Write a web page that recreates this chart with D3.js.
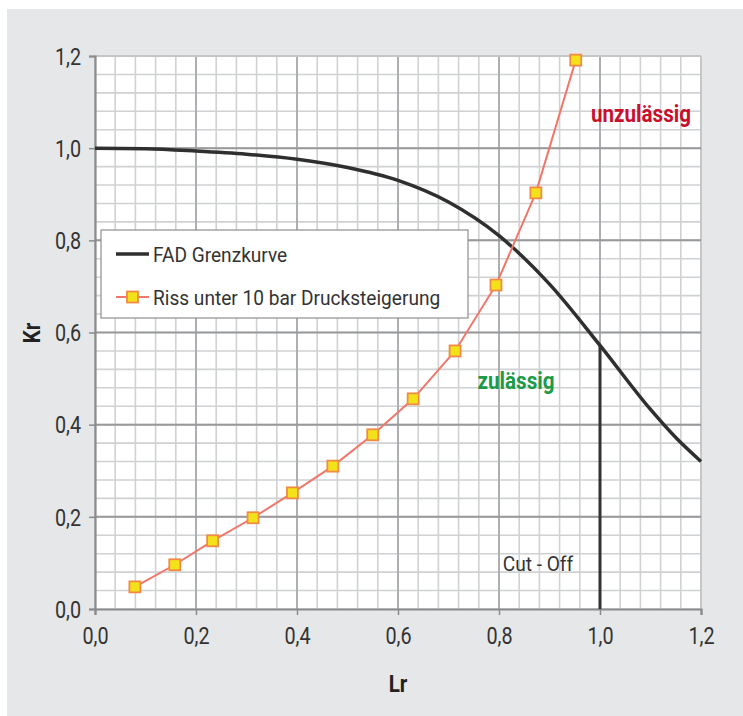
<!DOCTYPE html>
<html>
<head>
<meta charset="utf-8">
<script src="https://cdn.jsdelivr.net/npm/d3@7"></script>
<style>
  html, body { margin: 0; padding: 0; background: #ffffff; }
  svg { display: block; }
  .tick-label { font-family: "Roboto", sans-serif; font-size: 23px; fill: #333; }
  .axis-title { font-family: "Roboto", sans-serif; font-size: 24px; font-weight: bold; fill: #222; }
  .legend-text { font-family: "Roboto", sans-serif; font-size: 21px; fill: #333; }
</style>
</head>
<body>
<script>
"use strict";

// FAD Grenzkurve (Lr, Kr)
const fadLr = [0.0, 0.1, 0.2, 0.3, 0.4, 0.5, 0.6, 0.7, 0.8, 0.9, 1.0, 1.1, 1.15, 1.2];
const fadKr = [1.0, 0.999, 0.994, 0.987, 0.976, 0.958, 0.930, 0.883, 0.810, 0.705, 0.572, 0.433, 0.372, 0.320];

// Riss unter 10 bar Drucksteigerung
const rissLr = [0.079, 0.158, 0.233, 0.313, 0.391, 0.471, 0.550, 0.630, 0.713, 0.794, 0.873, 0.952];
const rissKr = [0.048, 0.096, 0.148, 0.198, 0.252, 0.310, 0.378, 0.456, 0.560, 0.703, 0.903, 1.191];

const ticks = [0.0, 0.2, 0.4, 0.6, 0.8, 1.0, 1.2];
const minorTicks = d3.range(0, 31).map(i => i * 0.04);

const cutOff = 1.0;
const legendLabels = ["FAD Grenzkurve", "Riss unter 10 bar Drucksteigerung"];

const W = 743, H = 716;
const SX = 0.86;   // horizontal squeeze, the original uses a condensed face
const fmt = v => d3.format(".1f")(v).replace(".", ",");

let svg = d3.select("body").append("svg")
    .attr("width", W)
    .attr("height", H);

svg.append("rect")
    .attr("x", 7).attr("y", 9)
    .attr("width", W - 7).attr("height", H - 9)
    .attr("fill", "#e6e7e8");

let x = d3.scaleLinear().domain([0, 1.2]).range([95, 701]);
let y = d3.scaleLinear().domain([0, 1.2]).range([609, 56]);

function condensedText(parent, tx, ty, str, sx)
{
    return parent.append("text")
        .attr("transform", "translate(" + tx + "," + ty + ") scale(" + (sx || SX) + ",1)")
        .text(str);
}

// plot area
svg.append("rect")
    .attr("x", x(0)).attr("y", y(1.2))
    .attr("width", x(1.2) - x(0)).attr("height", y(0) - y(1.2))
    .attr("fill", "#ffffff");

// minor grid (every 0.04)
let grid = svg.append("g");
grid.selectAll(".vmin").data(minorTicks).join("line")
    .attr("x1", d => x(d)).attr("x2", d => x(d))
    .attr("y1", y(0)).attr("y2", y(1.2))
    .attr("stroke", "#d0d1d3").attr("stroke-width", 1.6);
grid.selectAll(".hmin").data(minorTicks).join("line")
    .attr("y1", d => y(d)).attr("y2", d => y(d))
    .attr("x1", x(0)).attr("x2", x(1.2))
    .attr("stroke", "#d0d1d3").attr("stroke-width", 1.6);

// major grid
grid.selectAll(".vmaj").data(ticks.slice(1)).join("line")
    .attr("x1", d => x(d)).attr("x2", d => x(d))
    .attr("y1", y(0)).attr("y2", y(1.2))
    .attr("stroke", d => d === 1.2 ? "#c4c5c7" : "#a9aaac").attr("stroke-width", 1.8);
grid.selectAll(".hmaj").data(ticks.slice(1)).join("line")
    .attr("y1", d => y(d)).attr("y2", d => y(d))
    .attr("x1", x(0)).attr("x2", x(1.2))
    .attr("stroke", d => d === 1.2 ? "#c4c5c7" : "#98999b").attr("stroke-width", 2);

// axes
let xAxis = svg.append("g")
    .attr("transform", "translate(0," + y(0) + ")")
    .call(d3.axisBottom(x).tickValues(ticks).tickFormat(fmt).tickSize(6).tickPadding(8));
let yAxis = svg.append("g")
    .attr("transform", "translate(" + x(0) + ",0)")
    .call(d3.axisLeft(y).tickValues(ticks).tickFormat(fmt).tickSize(6).tickPadding(8));

[xAxis, yAxis].forEach(a =>
{
    a.select(".domain").attr("stroke", "#8a8b8d").attr("stroke-width", 2.2);
    a.selectAll(".tick line").attr("stroke", "#8a8b8d").attr("stroke-width", 1.5);
    a.selectAll(".tick text").attr("class", "tick-label").attr("fill", null);
});
xAxis.selectAll(".tick text")
    .attr("y", 0)
    .attr("dy", null)
    .attr("transform", "translate(0,35) scale(" + SX + ",1)");
yAxis.selectAll(".tick text")
    .attr("x", 0)
    .attr("dy", "0.36em")
    .attr("transform", "translate(-14,0) scale(" + SX + ",1)");

// cut-off line
svg.append("line")
    .attr("x1", x(cutOff)).attr("x2", x(cutOff))
    .attr("y1", y(0)).attr("y2", y(fadKr[fadLr.indexOf(cutOff)]))
    .attr("stroke", "#333").attr("stroke-width", 3);

// FAD curve
let fadData = fadLr.map((d, i) => [d, fadKr[i]]);
let line = d3.line()
    .x(d => x(d[0]))
    .y(d => y(d[1]))
    .curve(d3.curveMonotoneX);

svg.append("path")
    .datum(fadData)
    .attr("fill", "none")
    .attr("stroke", "#2f2f2f")
    .attr("stroke-width", 3.5)
    .attr("d", line);

// Riss series
let rissData = rissLr.map((d, i) => [d, rissKr[i]]);
svg.append("path")
    .datum(rissData)
    .attr("fill", "none")
    .attr("stroke", "#f0776a")
    .attr("stroke-width", 2)
    .attr("d", d3.line().x(d => x(d[0])).y(d => y(d[1])));

svg.selectAll(".marker").data(rissData).join("rect")
    .attr("x", d => x(d[0]) - 5.5)
    .attr("y", d => y(d[1]) - 5.5)
    .attr("width", 11).attr("height", 11)
    .attr("fill", "#f3e21a")
    .attr("stroke", "#f08a45")
    .attr("stroke-width", 1.8);

// annotations
condensedText(svg, x(0.877), y(0.1) + 8, "Cut - Off", 0.91)
    .attr("text-anchor", "middle")
    .attr("class", "legend-text");

condensedText(svg, 641, 122, "unzulässig")
    .attr("text-anchor", "middle")
    .attr("font-family", "Roboto, sans-serif")
    .attr("font-weight", "bold")
    .attr("font-size", 24)
    .attr("fill", "#c8102e");

condensedText(svg, 516, 389, "zulässig")
    .attr("text-anchor", "middle")
    .attr("font-family", "Roboto, sans-serif")
    .attr("font-weight", "bold")
    .attr("font-size", 24)
    .attr("fill", "#1a9b48");

// legend
let legend = svg.append("g").attr("transform", "translate(101,230)");
legend.append("rect")
    .attr("width", 367).attr("height", 88)
    .attr("fill", "#ffffff")
    .attr("stroke", "#8d8e90").attr("stroke-width", 1.2);

legend.append("line")
    .attr("x1", 15).attr("x2", 48).attr("y1", 24).attr("y2", 24)
    .attr("stroke", "#2f2f2f").attr("stroke-width", 3.5);
legend.append("line")
    .attr("x1", 15).attr("x2", 48).attr("y1", 67).attr("y2", 67)
    .attr("stroke", "#f0776a").attr("stroke-width", 2);
legend.append("rect")
    .attr("x", 26).attr("y", 61.5).attr("width", 11).attr("height", 11)
    .attr("fill", "#f3e21a").attr("stroke", "#f08a45").attr("stroke-width", 1.8);

legendLabels.forEach((d, i) =>
{
    condensedText(legend, 52, 24 + i * 43, d, 0.91)
        .attr("class", "legend-text")
        .attr("dy", "0.36em");
});

// axis titles
svg.append("text")
    .attr("class", "axis-title")
    .attr("transform", "translate(40," + 333 + ") rotate(-90) scale(" + SX + ",1)")
    .attr("text-anchor", "middle")
    .text("Kr");

condensedText(svg, 398, 692, "Lr")
    .attr("class", "axis-title")
    .attr("text-anchor", "middle");
</script>
</body>
</html>
